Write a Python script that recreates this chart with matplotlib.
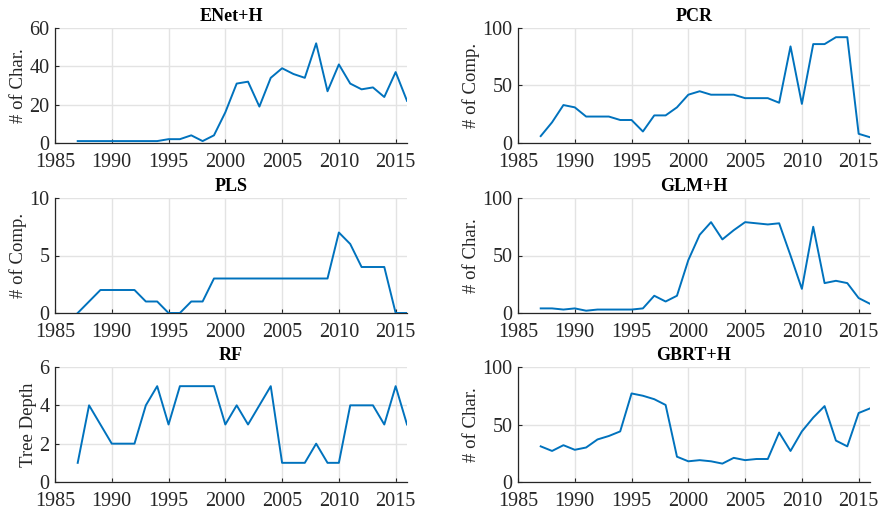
"""Hyperparameter paths over time: 6 models, MATLAB-style panels"""
import numpy as np
from matplotlib import pyplot as plt

plt.rcParams['font.family'] = ['Liberation Serif', 'DejaVu Serif']

YEARS = list(range(1987, 2017))

ENET_H = [1, 1, 1, 1, 1, 1, 1, 1, 2, 2, 4, 1, 4, 16, 31, 32, 19, 34, 39, 36,
          34, 52, 27, 41, 31, 28, 29, 24, 37, 22]
PCR = [6, 18, 33, 31, 23, 23, 23, 20, 20, 10, 24, 24, 31, 42, 45, 42, 42, 42, 39, 39,
       39, 35, 84, 34, 86, 86, 92, 92, 8, 5]
PLS = [0, 1, 2, 2, 2, 2, 1, 1, 0, 0, 1, 1, 3, 3, 3, 3, 3, 3, 3, 3,
       3, 3, 3, 7, 6, 4, 4, 4, 0, 0]
GLM_H = [4, 4, 3, 4, 2, 3, 3, 3, 3, 4, 15, 10, 15, 46, 68, 79, 64, 72, 79, 78,
         77, 78, 50, 21, 75, 26, 28, 26, 13, 8]
RF = [1, 4, 3, 2, 2, 2, 4, 5, 3, 5, 5, 5, 5, 3, 4, 3, 4, 5, 1, 1,
      1, 2, 1, 1, 4, 4, 4, 3, 5, 3]
GBRT_H = [31, 27, 32, 28, 30, 37, 40, 44, 77, 75, 72, 67, 22, 18, 19, 18, 16, 21, 19, 20,
          20, 43, 27, 44, 56, 66, 36, 31, 60, 64]

PANELS = [
    ('ENet+H', '# of Char.', ENET_H, [0, 20, 40, 60]),
    ('PCR', '# of Comp.', PCR, [0, 50, 100]),
    ('PLS', '# of Comp.', PLS, [0, 5, 10]),
    ('GLM+H', '# of Char.', GLM_H, [0, 50, 100]),
    ('RF', 'Tree Depth', RF, [0, 2, 4, 6]),
    ('GBRT+H', '# of Char.', GBRT_H, [0, 50, 100]),
]
X_TICKS = [1985, 1990, 1995, 2000, 2005, 2010, 2015]

LINE_COLOR = '#0072BD'
AXIS_COLOR = '#262626'
GRID_COLOR = '#e3e3e3'

# axes boxes in pixels (left, top, right, bottom) on a 879x513 canvas
W, H = 879, 513
COLS = [(55, 407), (518, 870)]
ROWS = [(28, 143), (198, 313), (367, 482)]


def draw_panel(ax, title, ylabel, values, yticks):
    ax.plot(YEARS, values, color=LINE_COLOR, linewidth=1.4, zorder=3)
    ax.set_xlim(1985, 2016)
    ax.set_ylim(yticks[0], yticks[-1])
    ax.set_xticks(X_TICKS)
    ax.set_yticks(yticks)
    ax.grid(True, color=GRID_COLOR, linewidth=1.0, zorder=0)
    ax.set_axisbelow(True)
    for side in ('top', 'right'):
        ax.spines[side].set_visible(False)
    for side in ('left', 'bottom'):
        ax.spines[side].set_color(AXIS_COLOR)
        ax.spines[side].set_linewidth(0.9)
    ax.tick_params(direction='in', length=3, width=0.8, color=AXIS_COLOR,
                   labelsize=14.5, labelcolor=AXIS_COLOR)
    ax.tick_params(axis='x', pad=7.5)
    ax.tick_params(axis='y', pad=4)
    ax.set_title(title, fontsize=13, fontweight='bold', pad=5)
    ax.set_ylabel(ylabel, fontsize=13.5, color=AXIS_COLOR, labelpad=2)


def main():
    fig = plt.figure(figsize=(W / 100, H / 100), dpi=100)
    for i, (title, ylabel, values, yticks) in enumerate(PANELS):
        r, c = divmod(i, 2)
        x0, x1 = COLS[c]
        y0, y1 = ROWS[r]
        ax = fig.add_axes([x0 / W, 1 - y1 / H, (x1 - x0) / W, (y1 - y0) / H])
        draw_panel(ax, title, ylabel, values, yticks)
    fig.savefig('out.png', dpi=100)
    plt.close(fig)


if __name__ == '__main__':
    main()
